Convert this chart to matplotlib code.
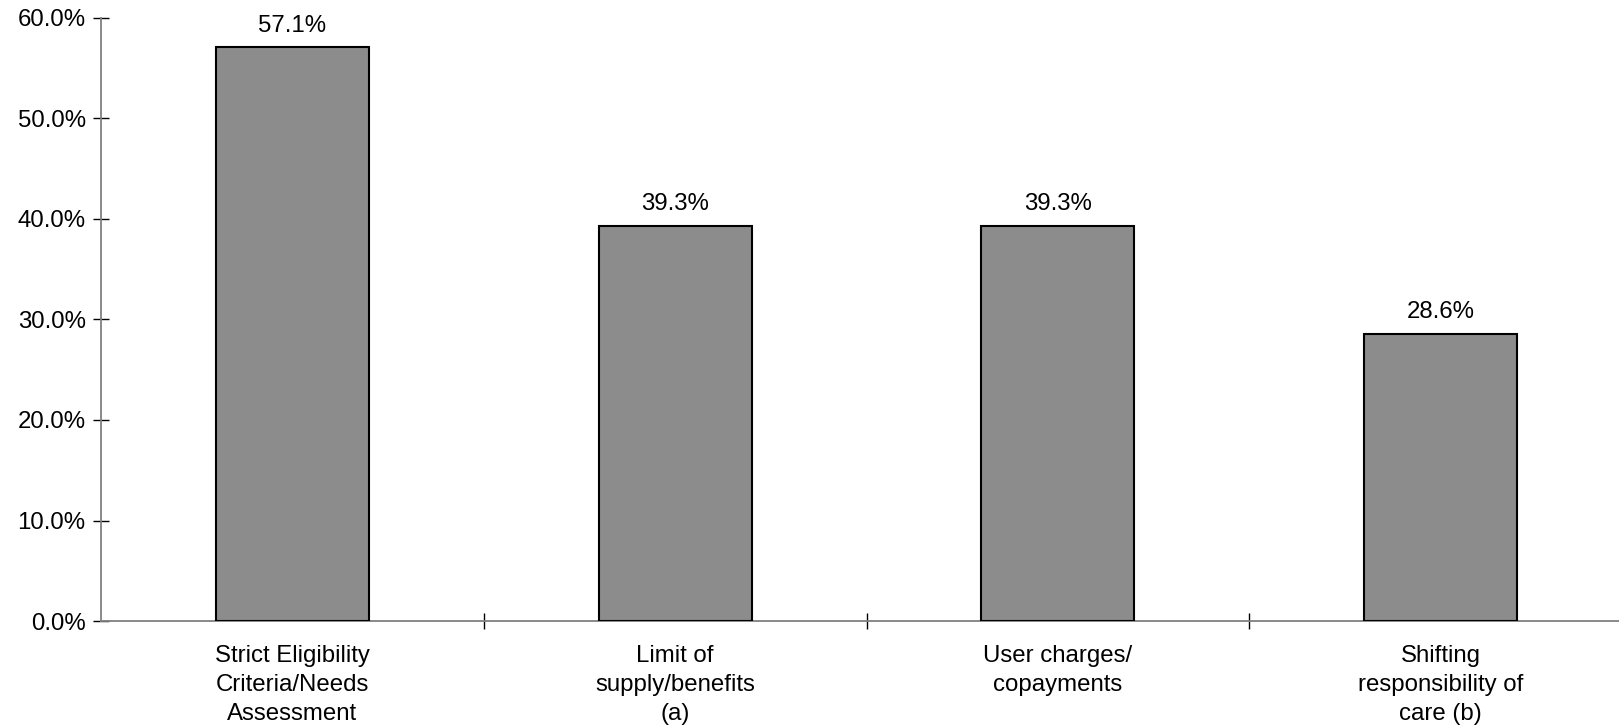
import numpy as np
import matplotlib.pyplot as plt
from matplotlib.ticker import FuncFormatter, FixedLocator

plt.rcParams['font.family'] = ['Liberation Sans', 'DejaVu Sans']

categories = ['Strict Eligibility\nCriteria/Needs\nAssessment',
              'Limit of\nsupply/benefits\n(a)',
              'User charges/\ncopayments',
              'Shifting\nresponsibility of\ncare (b)']
shares = [57.1, 39.3, 39.3, 28.6]

fig = plt.figure(figsize=(16.19, 7.28), dpi=100)
# plot area runs a little past the right edge of the figure
ax = fig.add_axes([101 / 1619, 107 / 728, 1531 / 1619, 603 / 728])

x = np.arange(len(categories))
bars = ax.bar(x, shares, width=0.40, color='#8c8c8c', edgecolor='black',
              linewidth=1.5, zorder=3)

for b, v in zip(bars, shares):
    ax.text(b.get_x() + b.get_width() / 2, v + 1.05, f'{v:.1f}%',
            ha='center', va='bottom', fontsize=17.3)

ax.set_xlim(-0.5, len(categories) - 0.5)
ax.set_ylim(0, 60)
ax.set_yticks(np.arange(0, 61, 10))
ax.yaxis.set_major_formatter(FuncFormatter(lambda v, _: f'{v:.1f}%'))

# category labels centred, tick marks on the boundaries between groups
ax.set_xticks(x)
ax.set_xticklabels(categories, fontsize=17.3, linespacing=1.4)
ax.tick_params(axis='x', which='major', length=0, pad=17.5)
ax.xaxis.set_minor_locator(FixedLocator(np.arange(0.5, len(categories) - 0.5, 1)))
ax.tick_params(axis='x', which='minor', direction='inout', length=11,
               color='black', width=1)
ax.tick_params(axis='y', direction='inout', length=11, color='black',
               width=1, labelsize=17.3, pad=5.5)

for side in ['top', 'right']:
    ax.spines[side].set_visible(False)
for side in ['left', 'bottom']:
    ax.spines[side].set_color('#808080')
    ax.spines[side].set_linewidth(1.3)

fig.savefig('out.png', dpi=100)
